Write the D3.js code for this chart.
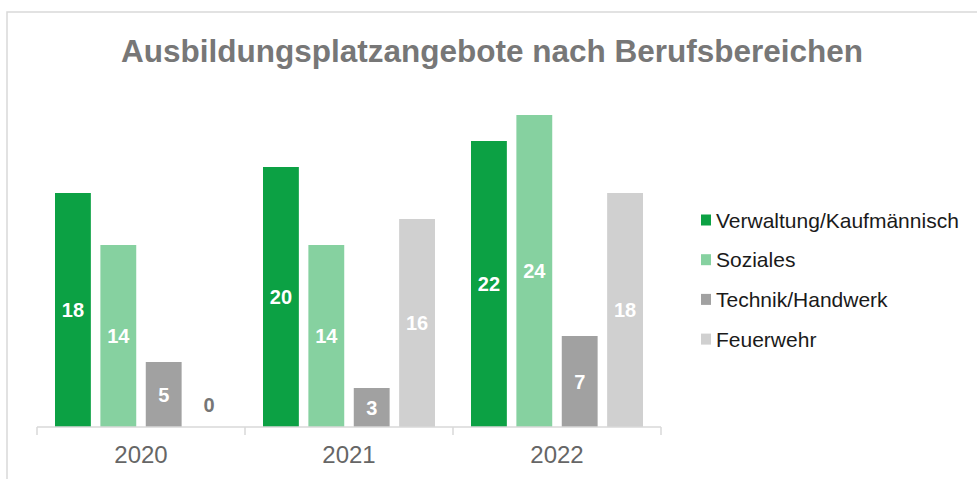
<!DOCTYPE html>
<html>
<head>
<meta charset="utf-8">
<script src="https://cdn.jsdelivr.net/npm/d3@7"></script>
<style>
  body { margin: 0; background: #fff; }
  text { font-family: "Liberation Sans", Arial, sans-serif; }
</style>
</head>
<body>
<svg id="chart"></svg>
<script>
// data
const years = ["2020", "2021", "2022"];
const categories = ["Verwaltung/Kaufmännisch", "Soziales", "Technik/Handwerk", "Feuerwehr"];
const verwaltung = [18, 20, 22];
const soziales = [14, 14, 24];
const technik = [5, 3, 7];
const feuerwehr = [0, 16, 18];
const colors = ["#0ca144", "#86d1a0", "#a1a1a1", "#d0d0d0"];

const width = 977;
const height = 479;
const series = [verwaltung, soziales, technik, feuerwehr];

const svg = d3.select("#chart")
    .attr("width", width)
    .attr("height", height);

// chart frame (only top and left visible)
svg.append("path")
    .attr("d", "M7,479 V12 H977")
    .attr("fill", "none")
    .attr("stroke", "#d9d9d9")
    .attr("stroke-width", 1.5);

// title
svg.append("text")
    .attr("x", 492)
    .attr("y", 62)
    .attr("text-anchor", "middle")
    .style("font-size", "31.5px")
    .style("font-weight", "bold")
    .style("fill", "#777777")
    .text("Ausbildungsplatzangebote nach Berufsbereichen");

// scales
const x0 = d3.scaleBand()
    .domain(years)
    .range([37, 661])
    .paddingInner(0)
    .paddingOuter(0);

const x1 = d3.scaleBand()
    .domain(categories)
    .range([18, x0.bandwidth() - 18])
    .paddingInner(0.21);

const y = d3.scaleLinear()
    .domain([0, 25])
    .range([427, 102]);

// bars
const groups = svg.append("g")
    .selectAll("g")
    .data(years)
    .enter().append("g")
    .attr("transform", d => "translate(" + x0(d) + ",0)");

const bars = groups.selectAll("g")
    .data((yr, i) => categories.map((c, j) => ({ cat: c, value: series[j][i], color: colors[j] })))
    .enter().append("g");

bars.append("rect")
    .attr("x", d => x1(d.cat))
    .attr("y", d => y(d.value))
    .attr("width", x1.bandwidth())
    .attr("height", d => y(0) - y(d.value))
    .attr("fill", d => d.color);

// value labels, centered in bars
bars.append("text")
    .attr("x", d => x1(d.cat) + x1.bandwidth() / 2)
    .attr("y", d => d.value > 0 ? (y(d.value) + y(0)) / 2 : y(0) - 22.5)
    .attr("dy", "0.36em")
    .attr("text-anchor", "middle")
    .style("font-size", "20px")
    .style("font-weight", "bold")
    .style("fill", d => d.value > 0 ? "#ffffff" : "#767676")
    .text(d => d.value);

// x axis
const xAxis = svg.append("g")
    .attr("transform", "translate(0," + y(0) + ")");

xAxis.append("line")
    .attr("x1", x0.range()[0])
    .attr("x2", x0.range()[1])
    .attr("stroke", "#d9d9d9")
    .attr("stroke-width", 1.5);

xAxis.selectAll(".tick")
    .data(years.map(d => x0(d)).concat([x0.range()[1]]))
    .enter().append("line")
    .attr("class", "tick")
    .attr("x1", d => d)
    .attr("x2", d => d)
    .attr("y1", 0)
    .attr("y2", 8)
    .attr("stroke", "#d9d9d9")
    .attr("stroke-width", 1.5);

xAxis.selectAll(".year")
    .data(years)
    .enter().append("text")
    .attr("class", "year")
    .attr("x", d => x0(d) + x0.bandwidth() / 2)
    .attr("y", 27.5)
    .attr("dy", "0.36em")
    .attr("text-anchor", "middle")
    .style("font-size", "24px")
    .style("fill", "#666666")
    .text(d => d);

// legend
const legend = svg.append("g")
    .selectAll("g")
    .data(categories)
    .enter().append("g")
    .attr("transform", (d, i) => "translate(701," + (220 + i * 39.7) + ")");

legend.append("rect")
    .attr("x", 0)
    .attr("y", -5.5)
    .attr("width", 10)
    .attr("height", 11)
    .attr("fill", (d, i) => colors[i]);

legend.append("text")
    .attr("x", 15)
    .attr("y", 0)
    .attr("dy", "0.36em")
    .style("font-size", "21px")
    .style("fill", "#1a1a1a")
    .text(d => d);
</script>
</body>
</html>
